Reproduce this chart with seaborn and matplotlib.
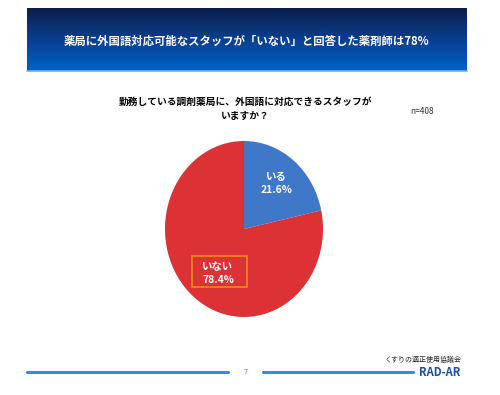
import numpy as np
import matplotlib
matplotlib.use("Agg")
import matplotlib.pyplot as plt
import seaborn as sns
from matplotlib.colors import LinearSegmentedColormap
from matplotlib.patches import Rectangle

# data
labels = ["いる", "いない"]
shares = [21.6, 78.4]
colors = ["#3f78c9", "#dc3236"]
banner_title = "薬局に外国語対応可能なスタッフが「いない」と回答した薬剤師は78%"
question = "勤務している調剤薬局に、外国語に対応できるスタッフが\nいますか？"
n_note = "n=408"
page_no = "7"
org_name = "くすりの適正使用協議会"

sns.set_theme(style="white")
plt.rcParams['font.family'] = ['Noto Sans CJK JP', 'DejaVu Sans']

fig = plt.figure(figsize=(5.0, 3.95), dpi=100)
fig.patch.set_facecolor("white")

# background axes in pixel coords for the slide decorations
bg = fig.add_axes([0, 0, 1, 1])
bg.set_xlim(0, 500)
bg.set_ylim(395, 0)
bg.axis("off")

grad = np.linspace(0, 1, 100).reshape(-1, 1)
cmap = LinearSegmentedColormap.from_list("banner", ["#0a1f4c", "#0a3f8f", "#0062c9"])
bg.imshow(grad, cmap=cmap, aspect="auto", extent=[27, 467, 71, 8], zorder=1)
bg.plot([27, 467], [70.5, 70.5], color="#6ab4ee", lw=1.2, zorder=2)
bg.text(246, 41, banner_title, color="white", fontsize=8.2, fontweight="bold",
        ha="center", va="center", zorder=3)

bg.text(245, 109, question, color="black", fontsize=7, fontweight="bold",
        ha="center", va="center", linespacing=1.5)
bg.text(422, 111, n_note, color="#333333", fontsize=6, ha="center", va="center")

# footer
bg.plot([27, 228], [372, 372], color="#2f8ee0", lw=2.2, solid_capstyle="round")
bg.plot([263, 413], [372, 372], color="#2f8ee0", lw=2.2, solid_capstyle="round")
bg.text(246, 372, page_no, color="#2f8ee0", fontsize=5.5, ha="center", va="center")
bg.text(423, 360, org_name, color="#222222", fontsize=5, ha="center", va="center")
bg.text(440, 372, "RAD-AR", color="#1a4fa0", fontsize=8, fontweight="bold",
        style="italic", ha="center", va="center")

# pie axes (slightly stretched vertically like the reference)
cx, cy, rx, ry = 244, 229, 79, 88
ax = fig.add_axes([(cx - rx) / 500, (395 - cy - ry) / 395, 2 * rx / 500, 2 * ry / 395])
wedges, _ = ax.pie(shares, colors=colors, startangle=90, counterclock=False,
                   wedgeprops=dict(linewidth=0))
ax.set_aspect("auto")
ax.set_xlim(-1, 1)
ax.set_ylim(-1, 1)

dists = [0.66, 0.65]
for w, lab, val, d in zip(wedges, labels, shares, dists):
    ang = np.deg2rad((w.theta1 + w.theta2) / 2)
    x, y = d * np.cos(ang), d * np.sin(ang)
    if lab == "いない":
        ax.text(x - 0.12, y, f"{lab}\n{val}%", color="white", fontsize=7.5,
                fontweight="bold", ha="left", va="center", linespacing=1.4)
    else:
        ax.text(x, y, f"{lab}\n{val}%", color="white", fontsize=7.5,
                fontweight="bold", ha="center", va="center", linespacing=1.4,
                multialignment="center")

# orange highlight box around the "いない" label (drawn on top of the pie)
ax.add_patch(Rectangle((192, 256), 55, 31, fill=False, ec="#f08a1c", lw=1.2,
                       transform=bg.transData, clip_on=False, zorder=5))

fig.savefig("out.png", dpi=100)
